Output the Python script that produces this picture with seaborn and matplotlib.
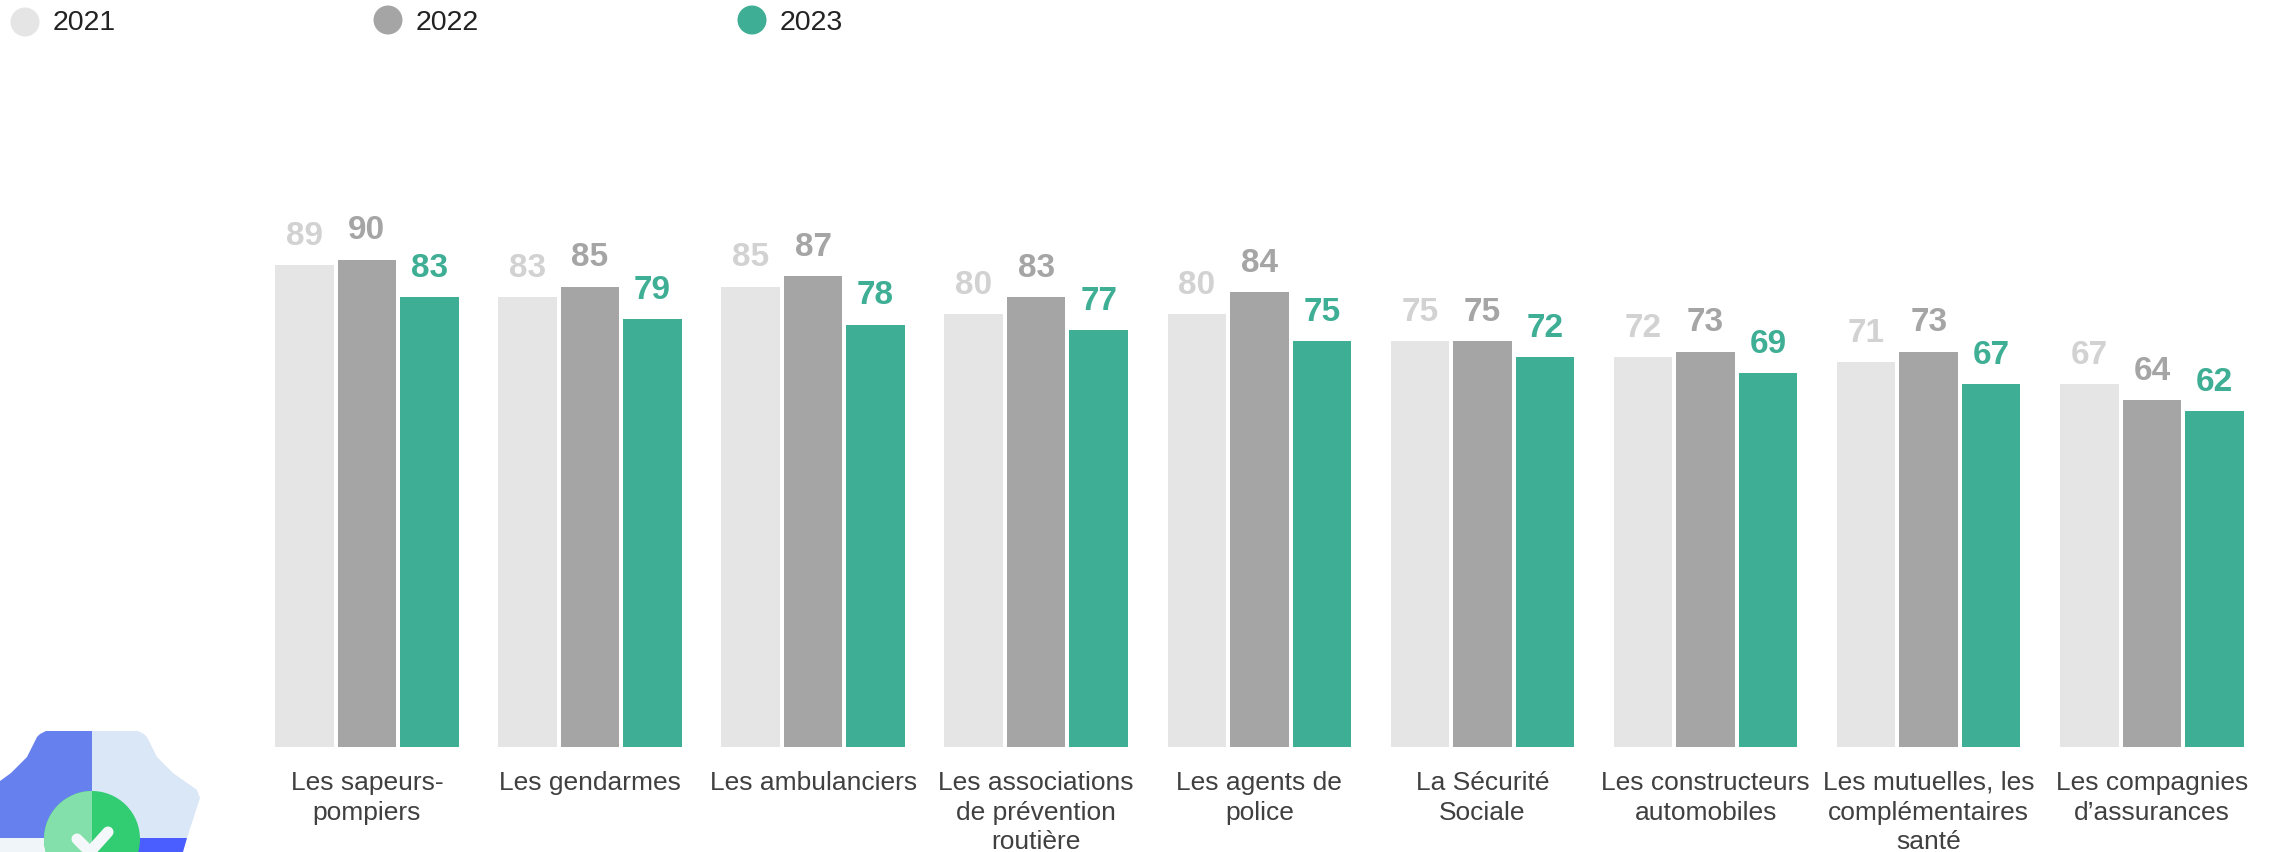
import matplotlib
matplotlib.use('Agg')
import matplotlib.pyplot as plt
from matplotlib.patches import Circle, Polygon, Rectangle
import pandas as pd
import seaborn as sns

sns.set_theme(style='white')
plt.rcParams['font.family'] = ['Liberation Sans', 'DejaVu Sans']

categories = ['Les sapeurs-\npompiers', 'Les gendarmes', 'Les ambulanciers',
              'Les associations\nde prévention\nroutière', 'Les agents de\npolice',
              'La Sécurité\nSociale', 'Les constructeurs\nautomobiles',
              'Les mutuelles, les\ncomplémentaires\nsanté', 'Les compagnies\nd’assurances']
years = ['2021', '2022', '2023']
values_2021 = [89, 83, 85, 80, 80, 75, 72, 71, 67]
values_2022 = [90, 85, 87, 83, 84, 75, 73, 73, 64]
values_2023 = [83, 79, 78, 77, 75, 72, 69, 67, 62]

bar_colors = ['#e5e5e5', '#a5a5a5', '#3eae94']
label_colors = ['#d2d2d2', '#a5a5a5', '#3eae94']

df = pd.DataFrame({'categorie': categories, '2021': values_2021, '2022': values_2022, '2023': values_2023})
df = df.melt(id_vars='categorie', var_name='annee', value_name='valeur')

W, H = 2269, 852
fig = plt.figure(figsize=(W / 100, H / 100), dpi=100)
ax = fig.add_axes([0, (H - 746.5) / H, 1, 746.5 / H])

sns.barplot(data=df, x='categorie', y='valeur', hue='annee', hue_order=years,
            palette=bar_colors, saturation=1, width=0.84, gap=0.064,
            linewidth=0, legend=False, ax=ax)

ax.set_xlim(-1.644, 8.525)
ax.set_ylim(0, 746.5 / 5.41)
ax.set_xlabel('')
ax.set_ylabel('')
ax.set_yticks([])
sns.despine(ax=ax, left=True, bottom=True)
ax.tick_params(axis='x', length=0, pad=17.5, labelsize=19, labelcolor='#404040')
for lab in ax.get_xticklabels():
    lab.set_linespacing(1.3)
ax.patch.set_alpha(0)

for cont, col in zip(ax.containers, label_colors):
    ax.bar_label(cont, padding=9.5, fontsize=24, fontweight='bold', color=col)

# overlay in pixel coordinates for the legend and the icon
ov = fig.add_axes([0, 0, 1, 1], zorder=5)
ov.set_xlim(0, W)
ov.set_ylim(H, 0)
ov.axis('off')

for x0, y0, col, year in zip([25, 388, 752], [22, 20, 20], bar_colors, years):
    ov.add_patch(Circle((x0, y0), 14.5, color=col, lw=0))
    ov.text(x0 + 28, 23.5, year, fontsize=20.5, color='#222222', va='center', ha='left')

# shield icon, cut by the bottom of the image
left = [(92, 731), (46, 731), (40, 734), (37, 737), (27, 757), (11, 773), (0, 781), (0, 852), (92, 852)]
right = [(92, 731), (138, 731), (144, 734), (147, 737), (157, 757), (173, 773), (197, 790), (200, 798),
         (187, 838), (92, 838)]
ov.add_patch(Polygon(left, color='#6680ee', lw=0))
ov.add_patch(Polygon(right, color='#dae7f7', lw=0))
ov.add_patch(Rectangle((0, 838), 92, 14, color='#f0f5fa', lw=0))
ov.add_patch(Polygon([(92, 838), (187, 838), (183, 852), (92, 852)], color='#4a5dff', lw=0))
ov.add_patch(Circle((92, 839), 48, color='#32cc72', lw=0))
clip = Rectangle((0, 700), 92, 152, transform=ov.transData)
c = Circle((92, 839), 48, color='#84e0aa', lw=0)
ov.add_patch(c)
c.set_clip_path(clip)
ov.plot([77, 90, 108], [839, 852, 832], color='#f5f8fb', lw=8, solid_capstyle='round', solid_joinstyle='round')

fig.savefig('out.png', dpi=100, facecolor='white')
